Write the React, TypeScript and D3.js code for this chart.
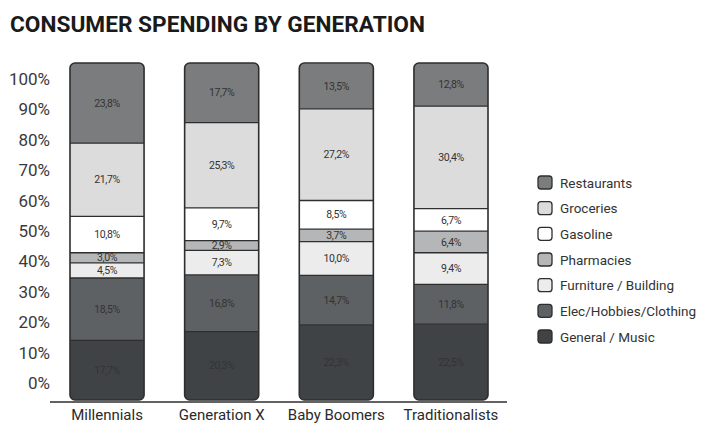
import React from "react";
import * as d3 from "d3";

const title = "CONSUMER SPENDING BY GENERATION";
const generations = ["Millennials", "Generation X", "Baby Boomers", "Traditionalists"];
// bottom to top
const categories = [
  "General / Music",
  "Elec/Hobbies/Clothing",
  "Furniture / Building",
  "Pharmacies",
  "Gasoline",
  "Groceries",
  "Restaurants",
];
const generalMusic = [17.7, 20.3, 22.3, 22.5];
const elecHobbies = [18.5, 16.8, 14.7, 11.8];
const furniture = [4.5, 7.3, 10.0, 9.4];
const pharmacies = [3.0, 2.9, 3.7, 6.4];
const gasoline = [10.8, 9.7, 8.5, 6.7];
const groceries = [21.7, 25.3, 27.2, 30.4];
const restaurants = [23.8, 17.7, 13.5, 12.8];
const yTicks = [0, 10, 20, 30, 40, 50, 60, 70, 80, 90, 100];

const seriesValues = [generalMusic, elecHobbies, furniture, pharmacies, gasoline, groceries, restaurants];
const colors = ["#404346", "#5d6163", "#ececec", "#b5b6b7", "#ffffff", "#dcdcdc", "#7a7c7e"];

export default function App() {
  const W = 704;
  const H = 424;
  const x = d3.scaleBand<string>().domain(generations).range([70, 488]).paddingInner(0.354).paddingOuter(0);
  const yBar = d3.scaleLinear().domain([0, 100]).range([400, 63]);
  const yAxis = d3.scaleLinear().domain([0, 100]).range([383, 79]);

  const rows = generations.map((g, i) => {
    const r: any = { gen: g };
    categories.forEach((c, k) => (r[c] = seriesValues[k][i]));
    return r;
  });
  const stacked = d3.stack<any>().keys(categories)(rows);
  const bw = x.bandwidth();
  const font = "Roboto, 'DejaVu Sans', sans-serif";
  const fmt = (v: number) => v.toFixed(1).replace(".", ",") + "%";

  const legendY = d3.scalePoint<string>().domain([...categories].reverse()).range([183, 337]);

  return (
    <svg width={W} height={H} style={{ position: "absolute", left: 0, top: 0, background: "#fff" }}>
      <rect width={W} height={H} fill="#fff" />
      <text x={10} y={32} fontFamily={font} fontWeight={700} fontSize={22} fill="#1a1a1a" textLength={415} lengthAdjust="spacingAndGlyphs">
        {title}
      </text>
      {yTicks.map((t) => (
        <text key={t} x={50} y={yAxis(t)} dy="0.35em" textAnchor="end" fontFamily={font} fontSize={17} fill="#3a3a3a">
          {t}%
        </text>
      ))}
      <defs>
        {generations.map((g, i) => (
          <clipPath id={"clip" + i} key={g}>
            <rect x={x(g)} y={yBar(100)} width={bw} height={yBar(0) - yBar(100)} rx={5} />
          </clipPath>
        ))}
      </defs>
      {generations.map((g, i) => (
        <g key={g}>
          <g clipPath={`url(#clip${i})`}>
            {stacked.map((s, k) => {
              const d = s[i];
              return (
                <rect key={k} x={x(g)} y={yBar(d[1])} width={bw} height={yBar(d[0]) - yBar(d[1])} fill={colors[k]} />
              );
            })}
            {stacked.slice(1).map((s, k) => (
              <line key={k} x1={x(g)} x2={(x(g) as number) + bw} y1={yBar(s[i][0])} y2={yBar(s[i][0])} stroke="#2e2e2e" strokeWidth={1.3} />
            ))}
          </g>
          <rect x={x(g)} y={yBar(100)} width={bw} height={yBar(0) - yBar(100)} rx={5} fill="none" stroke="#2e2e2e" strokeWidth={1.6} />
          {stacked.map((s, k) => {
            const d = s[i];
            return (
              <text
                key={k}
                x={(x(g) as number) + bw / 2}
                y={(yBar(d[0]) + yBar(d[1])) / 2}
                dy="0.35em"
                textAnchor="middle"
                fontFamily={font}
                fontSize={10.5}
                letterSpacing={-0.4}
                fill="#333"
              >
                {fmt(d[1] - d[0])}
              </text>
            );
          })}
          <text x={(x(g) as number) + bw / 2} y={420} textAnchor="middle" fontFamily={font} fontSize={15} fill="#2a2a2a">
            {g}
          </text>
        </g>
      ))}
      <line x1={50} x2={507} y1={402} y2={402} stroke="#2e2e2e" strokeWidth={1.5} />
      {[...categories].reverse().map((c) => {
        const k = categories.indexOf(c);
        const cy = legendY(c) as number;
        return (
          <g key={c}>
            <rect x={538} y={cy - 7} width={14} height={13} rx={3} fill={colors[k]} stroke="#2e2e2e" strokeWidth={1.3} />
            <text x={560} y={cy} dy="0.35em" fontFamily={font} fontSize={13.5} fill="#333">
              {c}
            </text>
          </g>
        );
      })}
    </svg>
  );
}
